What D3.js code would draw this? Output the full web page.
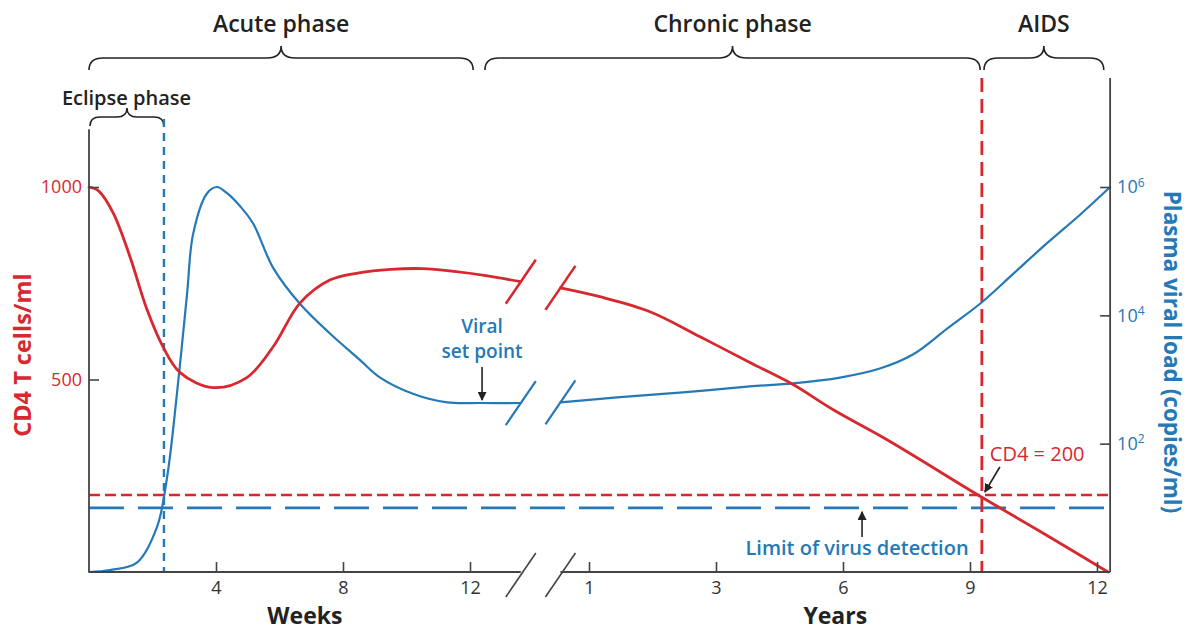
<!DOCTYPE html>
<html>
<head>
<meta charset="utf-8">
<script src="https://cdn.jsdelivr.net/npm/d3@7"></script>
<style>
  body { margin: 0; background: #fff; }
  svg { display: block; font-family: "Open Sans", sans-serif; }
</style>
</head>
<body>
<div id="chart"></div>
<script>
// CD4 count, weeks part (before the axis break)
var cd4Weeks     = [0, 0.3, 0.76, 1.29, 1.83, 2.33, 2.87, 3.9, 4.97, 5.8, 6.65, 7.6, 8.5, 9.5, 10.5, 11.5, 12.5, 13.6];
var cd4WeekVals  = [1000, 990, 933, 819, 681, 585, 518, 479, 505, 585, 699, 759, 777, 786, 788, 781, 770, 754];
// CD4 count, years part
var cd4Years     = [0.55, 1.17, 1.96, 2.75, 3.8, 4.82, 5.76, 7.11, 9.28, 10.65, 12.26];
var cd4YearVals  = [738, 715, 676, 611, 544, 487, 422, 339, 194, 106, 0];

// viral load (copies/ml), weeks part
var vlWeeks      = [0, 0.66, 1.51, 2.14, 2.46, 2.77, 3.09, 3.28, 3.72, 4.03, 4.35, 4.76, 5.17, 5.8, 6.65, 7.59, 8.54, 9.17, 10.2, 11.28, 12.3, 13.6];
var vlWeekVals   = [1, 1.07, 1.4, 5, 30, 600, 22000, 186000, 800000, 1000000, 800000, 500000, 270000, 55000, 15000, 5200, 2000, 1070, 600, 440, 430, 430];
// viral load, years part
var vlYears      = [0.55, 1.44, 2.48, 3.8, 4.82, 5.93, 6.87, 7.65, 8.46, 9.28, 10.0, 10.8, 11.6, 12.31];
var vlYearVals   = [440, 525, 630, 780, 870, 1070, 1480, 2450, 6200, 16000, 43000, 130000, 370000, 1000000];

// axes
var weekTicks  = [4, 8, 12];
var yearTicks  = [1, 3, 6, 9, 12];
var cd4Ticks   = [500, 1000];
var vlTicks    = [100, 10000, 1000000];
var weekBreak  = 13.6, yearBreak = 0.55, yearEnd = 12.31;
var cd4Top     = 1150, vlTop = 5e7;

// thresholds
var cd4Limit   = 200;     // CD4 = 200
var vlLimit    = 10;      // limit of virus detection
var eclipseEnd = 2.36;    // weeks
var aidsStart  = 9.28;    // years

// phases: [unit, value]
var phaseNames = ['Acute phase', 'Chronic phase', 'AIDS'];
var phaseFrom  = [['w', 0], ['w', 12.47], ['y', 9.33]];
var phaseTo    = [['w', 12.1], ['y', 9.24], ['y', 12.16]];

var red = '#d7282f', blue = '#2479b6', ink = '#222', axisCol = '#444';

var width = 1190, height = 630;
var svg = d3.select('#chart').append('svg')
        .attr('width', width)
        .attr('height', height);

var xWeeks = d3.scaleLinear().domain([0, 12]).range([89, 470]);
var xYears = d3.scaleLinear().domain(yearTicks)
        .range(yearTicks.map(function (d, i) { return 589 + i * 127; }));
var yCd4 = d3.scaleLinear().domain([0, 1000]).range([572, 187]);
var yVl = d3.scaleLog().domain([1, 1e6]).range([572, 187]);

function px(p) { return p[0] === 'w' ? xWeeks(p[1]) : xYears(p[1]); }

var x0 = xWeeks(0), xR = xYears(yearEnd), yB = yCd4(0);

var defs = svg.append('defs');
defs.append('marker').attr('id', 'arrow')
        .attr('viewBox', '0 0 10 10').attr('refX', 9).attr('refY', 5)
        .attr('markerUnits', 'userSpaceOnUse')
        .attr('markerWidth', 9).attr('markerHeight', 9)
        .attr('orient', 'auto')
        .append('path').attr('d', 'M0,0L10,5L0,10z').attr('fill', ink);

// curly brace
function brace(x1, x2, y, h, r) {
        var xm = (x1 + x2) / 2;
        return 'M' + x1 + ',' + (y + h) +
                'Q' + x1 + ',' + y + ' ' + (x1 + r) + ',' + y +
                'L' + (xm - r) + ',' + y +
                'Q' + xm + ',' + y + ' ' + xm + ',' + (y - h) +
                'Q' + xm + ',' + y + ' ' + (xm + r) + ',' + y +
                'L' + (x2 - r) + ',' + y +
                'Q' + x2 + ',' + y + ' ' + x2 + ',' + (y + h);
}

phaseNames.forEach(function (name, i) {
        var a = px(phaseFrom[i]), b = px(phaseTo[i]);
        svg.append('path').attr('d', brace(a, b, 58, 12, 14))
                .attr('fill', 'none').attr('stroke', ink).attr('stroke-width', 1.6);
        svg.append('text').attr('x', (a + b) / 2).attr('y', 32)
                .attr('text-anchor', 'middle').attr('font-size', 23).attr('font-weight', 600)
                .attr('fill', ink).text(name);
});
// eclipse phase
svg.append('path').attr('d', brace(x0 + 1, xWeeks(eclipseEnd), 117, 9, 10))
        .attr('fill', 'none').attr('stroke', ink).attr('stroke-width', 1.6);
svg.append('text').attr('x', (x0 + xWeeks(eclipseEnd)) / 2).attr('y', 105)
        .attr('text-anchor', 'middle').attr('font-size', 20).attr('font-weight', 600)
        .attr('fill', ink).text('Eclipse phase');

// threshold dashes
svg.append('line').attr('x1', x0).attr('x2', xR)
        .attr('y1', yCd4(cd4Limit)).attr('y2', yCd4(cd4Limit))
        .attr('stroke', red).attr('stroke-width', 2.6).attr('stroke-dasharray', '11,5');
svg.append('line').attr('x1', x0).attr('x2', xR)
        .attr('y1', yVl(vlLimit)).attr('y2', yVl(vlLimit))
        .attr('stroke', blue).attr('stroke-width', 2.6).attr('stroke-dasharray', '35,14');
svg.append('line').attr('x1', xWeeks(eclipseEnd)).attr('x2', xWeeks(eclipseEnd))
        .attr('y1', 119).attr('y2', yB)
        .attr('stroke', blue).attr('stroke-width', 2.4).attr('stroke-dasharray', '8,6');
svg.append('line').attr('x1', xYears(aidsStart)).attr('x2', xYears(aidsStart))
        .attr('y1', 78).attr('y2', yB)
        .attr('stroke', red).attr('stroke-width', 2.8).attr('stroke-dasharray', '14,7');

// curves
function series(xs, vs, xs_, ys_, color, w) {
        var line = d3.line()
                .x(function (d) { return xs_(d[0]); })
                .y(function (d) { return ys_(d[1]); })
                .curve(d3.curveCatmullRom.alpha(0.5));
        svg.append('path').datum(d3.zip(xs, vs))
                .attr('fill', 'none').attr('stroke', color).attr('stroke-width', w)
                .attr('stroke-linecap', 'round')
                .attr('d', line);
}
series(vlWeeks, vlWeekVals, xWeeks, yVl, blue, 2.2);
series(vlYears, vlYearVals, xYears, yVl, blue, 2.2);
series(cd4Weeks, cd4WeekVals, xWeeks, yCd4, red, 2.8);
series(cd4Years, cd4YearVals, xYears, yCd4, red, 2.8);

// break marks
function slash(cx, cy, color, w) {
        svg.append('line')
                .attr('x1', cx - 15).attr('y1', cy + 22)
                .attr('x2', cx + 15).attr('y2', cy - 22)
                .attr('stroke', color).attr('stroke-width', w);
}
slash(xWeeks(weekBreak), yCd4(cd4WeekVals[cd4WeekVals.length - 1]), red, 2.6);
slash(xYears(yearBreak), yCd4(cd4YearVals[0]), red, 2.6);
slash(xWeeks(weekBreak), yVl(vlWeekVals[vlWeekVals.length - 1]), blue, 2.2);
slash(xYears(yearBreak), yVl(vlYearVals[0]), blue, 2.2);
slash(xWeeks(weekBreak), yB + 3, axisCol, 1.6);
slash(xYears(yearBreak), yB + 3, axisCol, 1.6);

// axis lines
function axisLine(x1, y1, x2, y2) {
        svg.append('line').attr('x1', x1).attr('y1', y1).attr('x2', x2).attr('y2', y2)
                .attr('stroke', axisCol).attr('stroke-width', 1.8);
}
axisLine(x0, yB, x0, yCd4(cd4Top));
axisLine(xR, yB, xR, yVl(vlTop));
axisLine(x0, yB, xWeeks(weekBreak), yB);
axisLine(xYears(yearBreak), yB, xR, yB);

// ticks
function styleAxis(g, color, size) {
        g.select('.domain').remove();
        g.selectAll('.tick line').attr('stroke', axisCol).attr('stroke-width', 1.6);
        g.selectAll('.tick text').attr('fill', color).attr('font-size', size)
                .attr('font-family', '"Open Sans", sans-serif');
        g.attr('font-family', null).attr('font-size', null);
}
var gw = svg.append('g').attr('transform', 'translate(0,' + yB + ')')
        .call(d3.axisBottom(xWeeks).tickValues(weekTicks).tickSize(-10).tickPadding(9));
styleAxis(gw, '#333', 18);
var gy = svg.append('g').attr('transform', 'translate(0,' + yB + ')')
        .call(d3.axisBottom(xYears).tickValues(yearTicks).tickSize(-10).tickPadding(9));
styleAxis(gy, '#333', 18);
var gl = svg.append('g').attr('transform', 'translate(' + x0 + ',0)')
        .call(d3.axisLeft(yCd4).tickValues(cd4Ticks).tickSize(-10).tickPadding(7)
                .tickFormat(d3.format('d')));
styleAxis(gl, red, 18);
var gr = svg.append('g').attr('transform', 'translate(' + xR + ',0)')
        .call(d3.axisRight(yVl).tickValues(vlTicks).tickSize(-10).tickPadding(7)
                .tickFormat(function () { return '10'; }));
styleAxis(gr, blue, 18);
gr.selectAll('.tick text').append('tspan')
        .attr('dy', '-0.55em').attr('font-size', 12)
        .text(function (d) { return Math.round(Math.log10(d)); });

// axis titles
svg.append('text').attr('x', (x0 + xWeeks(weekBreak)) / 2).attr('y', 624)
        .attr('text-anchor', 'middle').attr('font-size', 23).attr('font-weight', 700)
        .attr('fill', ink).text('Weeks');
svg.append('text').attr('x', (xYears(yearBreak) + xR) / 2).attr('y', 624)
        .attr('text-anchor', 'middle').attr('font-size', 23).attr('font-weight', 700)
        .attr('fill', ink).text('Years');
svg.append('text').attr('transform', 'translate(31,355) rotate(-90)')
        .attr('text-anchor', 'middle').attr('font-size', 23.5).attr('font-weight', 700)
        .attr('fill', red).text('CD4 T cells/ml');
svg.append('text').attr('transform', 'translate(1164,352) rotate(90)')
        .attr('text-anchor', 'middle').attr('font-size', 22.5).attr('font-weight', 700)
        .attr('fill', blue).text('Plasma viral load (copies/ml)');

// annotations
var setX = xWeeks(12.38);
svg.append('text').attr('x', setX).attr('y', 333)
        .attr('text-anchor', 'middle').attr('font-size', 19).attr('font-weight', 600)
        .attr('fill', blue).text('Viral');
svg.append('text').attr('x', setX).attr('y', 358)
        .attr('text-anchor', 'middle').attr('font-size', 19).attr('font-weight', 600)
        .attr('fill', blue).text('set point');
svg.append('line').attr('x1', setX).attr('y1', 367).attr('x2', setX).attr('y2', yVl(430) - 3)
        .attr('stroke', ink).attr('stroke-width', 1.6).attr('marker-end', 'url(#arrow)');

var limX = xYears(6.45);
svg.append('text').attr('x', limX - 5).attr('y', 555)
        .attr('text-anchor', 'middle').attr('font-size', 20).attr('font-weight', 600)
        .attr('fill', blue).text('Limit of virus detection');
svg.append('line').attr('x1', limX).attr('y1', 537).attr('x2', limX).attr('y2', yVl(vlLimit) + 4)
        .attr('stroke', ink).attr('stroke-width', 1.6).attr('marker-end', 'url(#arrow)');

var cx = xYears(aidsStart), cy = yCd4(cd4Limit);
svg.append('text').attr('x', cx + 8).attr('y', cy - 34)
        .attr('font-size', 20).attr('fill', red).text('CD4 = 200');
svg.append('line').attr('x1', cx + 18).attr('y1', cy - 28).attr('x2', cx + 3).attr('y2', cy - 3)
        .attr('stroke', ink).attr('stroke-width', 1.6).attr('marker-end', 'url(#arrow)');
</script>
</body>
</html>
